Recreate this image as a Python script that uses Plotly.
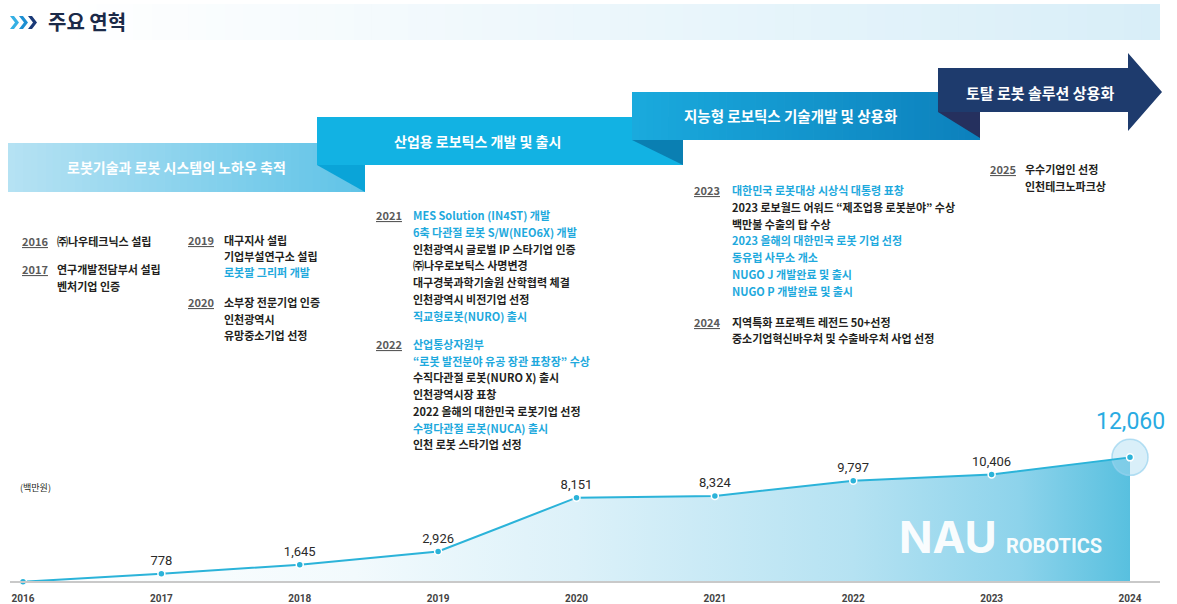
import plotly.graph_objects as go

W, H = 1177, 604

# ---------------- data ----------------
years = [2016, 2017, 2018, 2019, 2020, 2021, 2022, 2023, 2024]
revenue = [0, 778, 1645, 2926, 8151, 8324, 9797, 10406, 12060]
year_ticks = [str(y) for y in years]
value_labels = ["", "778", "1,645", "2,926", "8,151", "8,324", "9,797", "10,406", ""]
peak_label = "12,060"
unit_label = "(백만원)"
title_text = "주요 연혁"

stage_titles = [
    "로봇기술과 로봇 시스템의 노하우 축적",
    "산업용 로보틱스 개발 및 출시",
    "지능형 로보틱스 기술개발 및 상용화",
    "토탈 로봇 솔루션 상용화",
]

milestone_years = ["2016", "2017", "2019", "2020", "2021", "2022", "2023", "2024", "2025"]
milestone_lines = [
    ["㈜나우테크닉스 설립"],
    ["연구개발전담부서 설립", "벤처기업 인증"],
    ["대구지사 설립", "기업부설연구소 설립", "로봇팔 그리퍼 개발"],
    ["소부장 전문기업 인증", "인천광역시", "유망중소기업 선정"],
    ["MES Solution (IN4ST) 개발", "6축 다관절 로봇 S/W(NEO6X) 개발",
     "인천광역시 글로벌 IP 스타기업 인증", "㈜나우로보틱스 사명변경",
     "대구경북과학기술원 산학협력 체결", "인천광역시 비전기업 선정",
     "직교형로봇(NURO) 출시"],
    ["산업통상자원부", "“로봇 발전분야 유공 장관 표창장” 수상",
     "수직다관절 로봇(NURO X) 출시", "인천광역시장 표창",
     "2022 올해의 대한민국 로봇기업 선정", "수평다관절 로봇(NUCA) 출시",
     "인천 로봇 스타기업 선정"],
    ["대한민국 로봇대상 시상식 대통령 표창", "2023 로보월드 어워드 “제조업용 로봇분야” 수상",
     "백만불 수출의 탑 수상", "2023 올해의 대한민국 로봇 기업 선정",
     "동유럽 사무소 개소", "NUGO J 개발완료 및 출시", "NUGO P 개발완료 및 출시"],
    ["지역특화 프로젝트 레전드 50+선정", "중소기업혁신바우처 및 수출바우처 사업 선정"],
    ["우수기업인 선정", "인천테크노파크상"],
]
milestone_highlight = [
    [0],
    [0, 0],
    [0, 0, 1],
    [0, 0, 0],
    [1, 1, 0, 0, 0, 0, 1],
    [1, 1, 0, 0, 0, 1, 0],
    [1, 0, 0, 1, 1, 1, 1],
    [0, 0],
    [0, 0],
]

# ---------------- layout / style ----------------
KR = "Noto Sans CJK KR"
DARK = "#231f20"
CYAN = "#1ea9dd"
LINE = "#2bb3d9"

# (year x, text x, first line y, line spacing) in pixels
block_pos = [
    (20, 55, 241, 16.5), (20, 55, 269, 16.5), (186, 222, 240, 16.2),
    (186, 222, 302, 16.5), (374, 411, 215, 16.8), (374, 411, 344, 16.7),
    (692, 730, 190, 16.8), (692, 730, 322, 16.5), (988, 1023, 169, 17),
]


def X(px):
    return px / W


def Y(py):
    return 1 - py / H


def hex2rgb(h):
    h = h.lstrip("#")
    return tuple(int(h[i:i + 2], 16) for i in (0, 2, 4))


def mix(c0, c1, t):
    a, b = hex2rgb(c0), hex2rgb(c1)
    return "rgb(%d,%d,%d)" % tuple(round(a[i] + (b[i] - a[i]) * t) for i in range(3))


shapes = []
annotations = []


def grad_rect(x0, x1, y0, y1, c0, c1, n=48):
    for i in range(n):
        a = x0 + (x1 - x0) * i / n
        b = min(x1, x0 + (x1 - x0) * (i + 1) / n + 0.7)
        shapes.append(dict(type="rect", xref="paper", yref="paper",
                           x0=X(a), x1=X(b), y0=Y(y1), y1=Y(y0),
                           fillcolor=mix(c0, c1, (i + 0.5) / n), line=dict(width=0)))


def poly(points, color):
    d = "M " + " L ".join("%.5f,%.5f" % (X(px), Y(py)) for px, py in points) + " Z"
    shapes.append(dict(type="path", xref="paper", yref="paper", path=d,
                       fillcolor=color, line=dict(width=0)))


# header band
grad_rect(60, 1160, 4, 40, "#ffffff", "#d8eef8", n=60)
# chevrons
for cx, col in [(10, "#35b0e4"), (19, "#1d8fd2"), (28, "#1b3a78")]:
    poly([(cx, 16), (cx + 4, 16), (cx + 9, 22.5), (cx + 4, 29), (cx, 29), (cx + 5, 22.5)], col)
annotations.append(dict(x=X(46), y=Y(22), xref="paper", yref="paper", text="<b>" + title_text + "</b>",
                        showarrow=False, xanchor="left", yanchor="middle",
                        font=dict(family=KR, size=20, color="#1b2a48")))

# stage ribbons
grad_rect(8, 365, 143, 192, "#b6e2f3", "#5fc3e7")
poly([(317, 165), (365, 165), (365, 192)], "#0aa4d8")
shapes.append(dict(type="rect", xref="paper", yref="paper", x0=X(317), x1=X(683),
                   y0=Y(165), y1=Y(117), fillcolor="#12b2e3", line=dict(width=0)))
grad_rect(632, 980, 92, 140, "#1aaadd", "#0c80bc")
poly([(632, 140), (683, 140), (683, 165)], "#0a7fb2")
poly([(938, 112), (980, 112), (980, 138)], "#25305e")
poly([(938, 68), (1128, 68), (1128, 53), (1162, 92), (1128, 131), (1128, 112), (938, 112)], "#1e3b6d")

stage_centers = [(176, 167, 14), (478, 141, 14), (790, 116, 14.5), (1040, 92, 15)]
for txt, (cx, cy, fs) in zip(stage_titles, stage_centers):
    annotations.append(dict(x=X(cx), y=Y(cy), xref="paper", yref="paper", text="<b>" + txt + "</b>",
                            showarrow=False, xanchor="center", yanchor="middle",
                            font=dict(family=KR, size=fs, color="white")))

# milestone text blocks
for yr, lines, hl, (xy, xt, y0, dy) in zip(milestone_years, milestone_lines, milestone_highlight, block_pos):
    annotations.append(dict(x=X(xy), y=Y(y0), xref="paper", yref="paper",
                            text="<b><u>" + yr + "</u></b>", showarrow=False,
                            xanchor="left", yanchor="middle",
                            font=dict(family=KR, size=11, color="#5a5a5a")))
    for i, (ln, h) in enumerate(zip(lines, hl)):
        annotations.append(dict(x=X(xt), y=Y(y0 + i * dy), xref="paper", yref="paper",
                                text="<b>" + ln + "</b>", showarrow=False,
                                xanchor="left", yanchor="middle",
                                font=dict(family=KR, size=11, color=CYAN if h else DARK)))

# unit label
annotations.append(dict(x=X(18), y=Y(487), xref="paper", yref="paper", text=unit_label,
                        showarrow=False, xanchor="left", yanchor="middle",
                        font=dict(family=KR, size=9, color=DARK)))

# logo (white, on the fill)
annotations.append(dict(x=X(897), y=Y(537), xref="paper", yref="paper", text="<b>NAU</b>",
                        showarrow=False, xanchor="left", yanchor="middle",
                        font=dict(family="Inter", size=44, color="rgba(255,255,255,0.95)")))
annotations.append(dict(x=X(1004), y=Y(546), xref="paper", yref="paper", text="<b>ROBOTICS</b>",
                        showarrow=False, xanchor="left", yanchor="middle",
                        font=dict(family="Roboto", size=20, color="rgba(255,255,255,0.95)")))

# peak label
annotations.append(dict(x=years[-1], y=revenue[-1], xref="x", yref="y", text=peak_label,
                        showarrow=False, yshift=36, xanchor="center", yanchor="middle",
                        font=dict(family="Roboto", size=23, color="#29abe2")))

fig = go.Figure()
fig.add_trace(go.Scatter(
    x=years, y=revenue, mode="none", fill="tozeroy",
    fillgradient=dict(type="horizontal", start=years[0], stop=years[-1],
                      colorscale=[[0, "#ffffff"], [0.3, "#f2fafd"], [0.5, "#dcf1f9"],
                                  [0.75, "#b5e2f2"], [0.9, "#8dd3eb"], [1, "#58c0df"]]),
    hoverinfo="skip", showlegend=False))
fig.add_trace(go.Scatter(
    x=[years[-1]], y=[revenue[-1]], mode="markers",
    marker=dict(size=36, color="rgba(170,220,242,0.45)",
                line=dict(width=1.5, color="rgba(150,210,238,0.7)")),
    hoverinfo="skip", showlegend=False))
fig.add_trace(go.Scatter(
    x=years, y=revenue, mode="lines+markers+text",
    line=dict(color=LINE, width=2),
    marker=dict(size=7, color=LINE, line=dict(width=1.5, color="white")),
    text=value_labels, textposition="top center",
    textfont=dict(family="Roboto", size=13, color="#2a2a2a"),
    showlegend=False))

px_per_year = (1130 - 23) / 8
units_per_px = 97.0
fig.update_layout(
    width=W, height=H, margin=dict(l=0, r=0, t=0, b=0),
    paper_bgcolor="white", plot_bgcolor="rgba(0,0,0,0)",
    shapes=shapes, annotations=annotations, showlegend=False,
    xaxis=dict(domain=[X(10), X(1160)],
               range=[2016 - (23 - 10) / px_per_year, 2016 + (1160 - 23) / px_per_year],
               anchor="free", position=Y(582),
               showline=True, linecolor="#c9c9c9", linewidth=2,
               showgrid=False, zeroline=False,
               tickvals=years, ticktext=year_ticks,
               ticks="outside", ticklen=7, tickcolor="rgba(0,0,0,0)",
               tickfont=dict(family="Roboto", size=10, color="#444444", weight="bold")),
    yaxis=dict(domain=[0, 1], range=[-(H - 581.7) * units_per_px, 581.7 * units_per_px],
               visible=False, showgrid=False, zeroline=False),
)

fig.write_html("out.html", config={"displayModeBar": False, "staticPlot": True},
               post_script="document.body.style.margin='0';document.body.style.overflow='hidden';")
